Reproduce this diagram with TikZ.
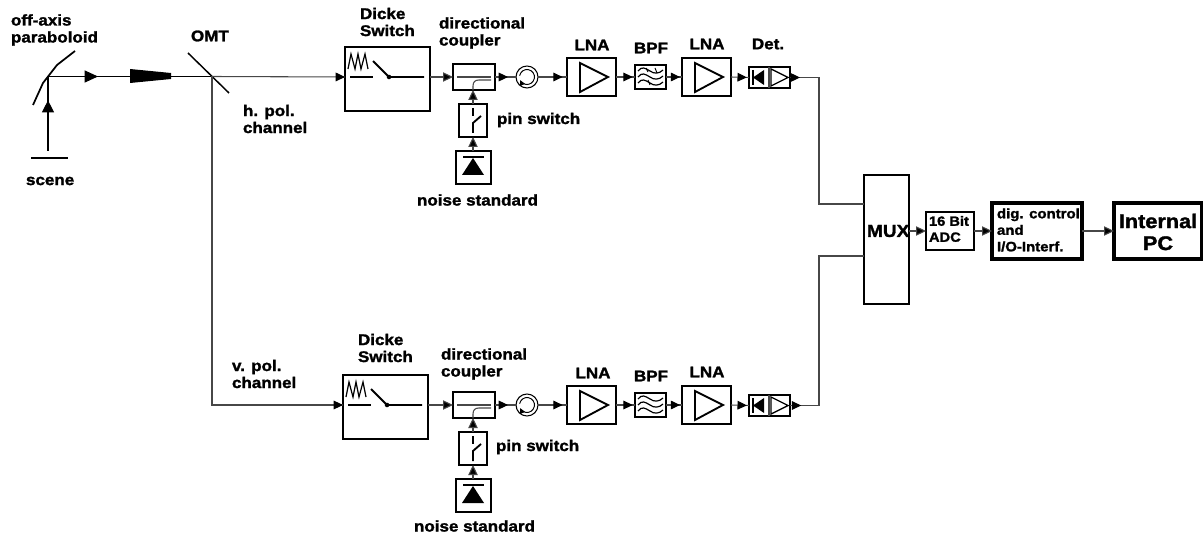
\documentclass[tikz,border=0pt]{standalone}
\usepackage{fontspec}
\setmainfont[FakeStretch=1.1,FakeBold=1.6]{Liberation Sans Bold}
\usetikzlibrary{arrows.meta,decorations.markings}
\tikzset{
 px/.style={x=0.75pt,y=-0.75pt},
 thin line/.style={line width=0.8pt,draw=black!72},
 conn/.style={thin line,-{Triangle[length=7.5pt,width=7pt,fill=black]},black!72},
 markhead/.style={postaction={decorate},decoration={markings,mark=at position #1 with {\arrow[black]{Triangle[length=7pt,width=6.5pt]}}}},
 blk/.style={draw=black,line width=#1,inner sep=0pt,outer sep=0pt,fill=white},
 lbl/.style={inner sep=0pt,outer sep=0pt,align=left,anchor=west,font=\fontsize{11.6pt}{12.75pt}\selectfont},
 sym/.style={draw=black,line width=1.4pt,line join=miter},
}
\newcommand\bx[6][1.8pt]{\node[blk=#1,minimum width={((#5)-(#3))*0.75pt},minimum height={((#6)-(#4))*0.75pt}] (#2) at ({((#3)+(#5))/2},{((#4)+(#6))/2}) {};}
\newcommand\chan[4]{% suffix, y offset, x offset of Dicke box, ticks on BPF (1/0)
 \bx{dicke#1}{345-#3}{47+#2}{430-#3}{111+#2}
 \bx{coup#1}{453}{64+#2}{495}{90+#2}
 \node[draw=black,line width=0.8pt,circle,minimum size=16.5pt,inner sep=0pt,outer sep=0pt] (circ#1) at (527,77+#2) {};
 \bx{pin#1}{459}{104+#2}{487}{137+#2}
 \bx{noise#1}{456}{151+#2}{491}{184+#2}
 \bx{lnaa#1}{567}{58+#2}{616}{96+#2}
 \bx[1.4pt]{bpf#1}{635}{65+#2}{666}{89+#2}
 \bx{lnab#1}{682}{58+#2}{731}{96+#2}
 \bx[1.4pt]{det#1}{749}{67+#2}{790}{88+#2}
 \coordinate (din#1) at ({345-#3},{77+#2});
 \coordinate (dout#1) at ({430-#3},{77+#2});
 \coordinate (cin#1) at (453,77+#2);
 \coordinate (cout#1) at (495,77+#2);
 \coordinate (csouth#1) at (473,90+#2);
 % Dicke switch symbol
 \draw[line width=0.9pt] ({348-#3},{69+#2}) -- ({351-#3},{54+#2}) -- ({355-#3},{69+#2}) -- ({358-#3},{54+#2}) -- ({361-#3},{69+#2}) -- ({365-#3},{54+#2}) -- ({368-#3},{69+#2});
 \draw[sym] ({350-#3},{77+#2}) -- ({373-#3},{77+#2});
 \draw[sym] ({373-#3},{61+#2}) -- ({389-#3},{77+#2}) -- ({424-#3},{77+#2});
 \fill ({389-#3},{77+#2}) circle (1.7pt);
 % coupler
 \draw[thin line] (457,77+#2) -- (491,77+#2);
 \draw[thin line] (473,90+#2) -- (473,86+#2) .. controls (473,82+#2) and (475,80+#2) .. (479,80+#2) -- (491,80+#2);
 % circulator
 \draw[line width=0.7pt,-{Triangle[length=4pt,width=4pt]}] (527,77+#2) ++(170:5.6pt) arc (170:-155:5.6pt);
 % pin switch
 \draw[sym] (473,108+#2) -- (473,116+#2);
 \draw[sym] (473,133+#2) -- (473,123+#2) -- (481,116+#2);
 % noise diode
 \draw[sym] (463,157+#2) -- (484,157+#2);
 \fill (462,175+#2) -- (484,175+#2) -- (473,158+#2) -- cycle;
 % amplifiers
 \draw[sym] (580,63+#2) -- (580,92+#2) -- (608,77+#2) -- cycle;
 \draw[sym] (695,63+#2) -- (695,92+#2) -- (723,77+#2) -- cycle;
 % filter
 \foreach \w in {71,77,83}{
  \draw[line width=0.9pt] (638,\w+#2) .. controls (642,\w-5+#2) and (645,\w-3+#2) .. (650,\w+#2) .. controls (654,\w+3+#2) and (659,\w+3+#2) .. (663,\w-1+#2);}
 \ifnum#4=1
  \draw[line width=0.7pt] (646,68+#2) -- (648,72+#2) (655,68+#2) -- (657,73+#2) (648,80+#2) -- (650,85+#2);
 \fi
 % detector
 \draw[thin line] (769,67+#2) -- (769,88+#2);
 \draw[sym] (753,70+#2) -- (753,85+#2);
 \fill (753,77.5+#2) -- (764,70+#2) -- (764,85+#2) -- cycle;
 \draw[line width=1pt] (771,69+#2) -- (771,86+#2) -- (788,77.5+#2) -- cycle;
 % connectors
 \draw[conn] (dout#1) -- (cin#1);
 \draw[thin line,markhead=0.62] (cout#1) -- (circ#1.west);
 \draw[thin line,markhead=0.85] (circ#1.east) -- (lnaa#1.west);
 \draw[thin line,markhead=0.88] (lnaa#1.east) -- (bpf#1.west);
 \draw[thin line,markhead=0.88] (bpf#1.east) -- (lnab#1.west);
 \draw[thin line,markhead=0.88] (lnab#1.east) -- (det#1.west);
 \draw[conn] (pin#1.north) -- (csouth#1);
 \draw[conn] (pin#1.south |- noise#1.north) -- (pin#1.south);
}
\begin{document}
\begin{tikzpicture}[px]
\useasboundingbox (0,0) rectangle (1203,538);
% front end
\coordinate (scenetop) at (48,151);
\coordinate (focus) at (48,76.5);
\coordinate (omt) at (212,76.5);
\draw[line width=1.3pt] (33,105) -- (43,83) -- (57,65) -- (75,51);
\draw[line width=2pt] (31,158) -- (68,158);
\draw[line width=1.1pt] (188,53) -- (229,93);
\draw[line width=0.8pt,postaction={decorate},decoration={markings,mark=at position 0.68 with {\arrow[black]{Triangle[length=9pt,width=9pt]}}}] (scenetop) -- (focus);
\draw[line width=0.8pt,postaction={decorate},decoration={markings,mark=at position 0.305 with {\arrow[black]{Triangle[length=10pt,width=9pt]}}}] (focus) -- (omt);
\fill (130,69) -- (171,73) -- (171,79) -- (130,83) -- cycle;
% channels
\chan{a}{0}{0}{1}
\chan{b}{328}{2}{0}
% back end
\bx[1.3pt]{mux}{864}{175}{909}{304}
\bx{adc}{926}{212}{974}{250}
\bx[3pt]{dig}{992}{203}{1082}{259}
\bx[3pt]{pc}{1114}{203}{1202}{259}
\node[lbl,font=\fontsize{13pt}{15pt}\selectfont] (muxt) at (867,231) {MUX};
\node[lbl,font=\fontsize{10pt}{12pt}\selectfont] (adct) at (929,229) {16 Bit\\ADC};
\node[lbl,font=\fontsize{10.2pt}{12.4pt}\selectfont] (digt) at (997,230) {dig. control\\and\\I/O-Interf.};
\node[inner sep=0pt,align=center,font=\fontsize{14.8pt}{16.5pt}\selectfont] (pct) at (1158,232) {Internal\\PC};
% inter-block connectors
\draw[thin line,markhead=1] (omt) -- (dina);
\coordinate (vcorner) at (212,405);
\draw[thin line,markhead=1] (omt) -- (vcorner) -- (dinb);
\coordinate (ja) at (819,77.5);
\coordinate (ma) at (864,204);
\coordinate (jb) at (819,405.5);
\coordinate (mb) at (864,256);
\draw[thin line,markhead=0.05] (deta.east) -- (ja) |- (ma);
\draw[thin line,markhead=0.05] (detb.east) -- (jb) |- (mb);
\draw[conn] (mux.east |- adc.west) -- (adc.west);
\draw[conn] (adc.east) -- (dig.west);
\draw[conn] (dig.east) -- (pc.west);
% labels
\node[lbl] (l1) at (11,30) {off-axis\\paraboloid};
\node[lbl] at (191,36) {OMT};
\node[lbl] at (26,181) {scene};
\node[lbl] at (243,119) {h. pol.\\channel};
\node[lbl] at (232,374) {v. pol.\\channel};
\node[lbl] at (360,22) {Dicke\\Switch};
\node[lbl] at (358,348) {Dicke\\Switch};
\node[lbl] at (439,33) {directional\\coupler};
\node[lbl] at (441,364) {directional\\coupler};
\node[lbl] at (497,120) {pin switch};
\node[lbl] at (496,447) {pin switch};
\node[lbl] at (417,200) {noise standard};
\node[lbl] at (414,526) {noise standard};
\node[lbl,anchor=center] at (592,45) {LNA};
\node[lbl,anchor=center] at (651,48) {BPF};
\node[lbl,anchor=center] at (707,44) {LNA};
\node[lbl,anchor=center] at (768,44) {Det.};
\node[lbl,anchor=center] at (593,373) {LNA};
\node[lbl,anchor=center] at (651,376) {BPF};
\node[lbl,anchor=center] at (707,372) {LNA};
\end{tikzpicture}
\end{document}
